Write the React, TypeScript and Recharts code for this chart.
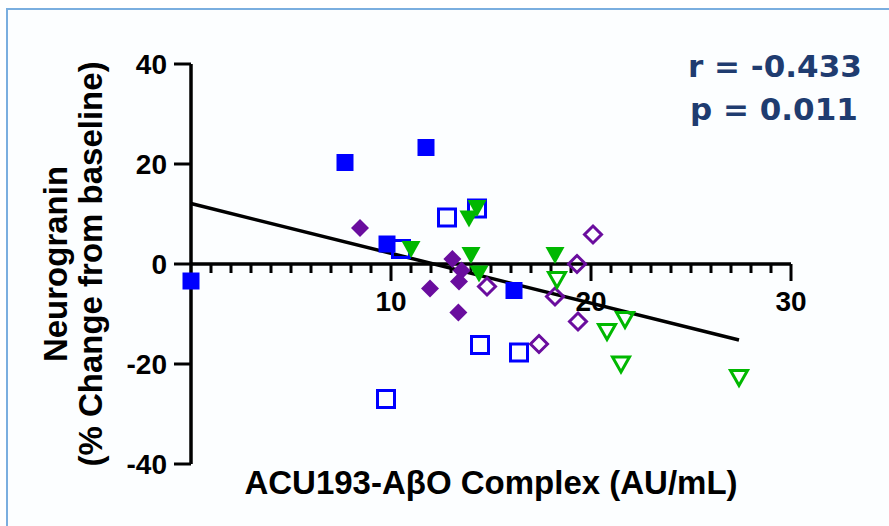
import React from 'react';
import { ScatterChart, Scatter, XAxis, YAxis, ReferenceLine } from 'recharts';

const blueFilled = [
  { x: 0, y: -3.4 }, { x: 7.7, y: 20.3 }, { x: 11.75, y: 23.3 }, { x: 9.8, y: 4.0 }, { x: 16.15, y: -5.3 },
];
const blueOpen = [
  { x: 10.5, y: 3.0 }, { x: 12.8, y: 9.3 }, { x: 14.3, y: 11.1 }, { x: 14.45, y: -16.2 }, { x: 16.4, y: -17.7 }, { x: 9.75, y: -27.0 },
];
const purpleFilled = [
  { x: 8.45, y: 7.2 }, { x: 13.07, y: 1.0 }, { x: 13.53, y: -1.3 }, { x: 13.4, y: -3.5 }, { x: 11.95, y: -4.9 }, { x: 13.37, y: -9.7 },
];
const purpleOpen = [
  { x: 14.8, y: -4.5 }, { x: 18.2, y: -6.5 }, { x: 19.3, y: 0 }, { x: 20.1, y: 5.9 }, { x: 19.35, y: -11.5 }, { x: 17.4, y: -16.0 },
];
const greenFilled = [
  { x: 11.0, y: 3.0 }, { x: 14.3, y: 11.2 }, { x: 13.9, y: 9.1 }, { x: 14.0, y: 1.8 }, { x: 14.4, y: -1.9 }, { x: 18.2, y: 1.8 },
];
const greenOpen = [
  { x: 18.3, y: -3.1 }, { x: 21.7, y: -11.1 }, { x: 20.8, y: -13.5 }, { x: 21.5, y: -20.0 }, { x: 27.4, y: -22.7 },
];
const fitStart = { x: 0, y: 12.1 };
const fitEnd = { x: 27.4, y: -15.2 };

const yTicks = [-40, -20, 0, 20, 40];
const xMajorTicks = [10, 20, 30];
const xMinorTicks = Array.from({ length: 30 }, (_, i) => i + 1).filter((v) => v % 10 !== 0);

const BLUE = '#0000ff';
const PURPLE = '#6a0d9e';
const GREEN = '#00b800';
const NAVY = '#1f3c70';
const AXIS_FONT = '"Liberation Sans", Arial, sans-serif';

const squareFilled = (p: any) => <rect x={p.cx - 8.5} y={p.cy - 8.5} width={17} height={17} fill={BLUE} />;
const squareOpen = (p: any) => (
  <rect x={p.cx - 8.5} y={p.cy - 8.5} width={17} height={17} fill="none" stroke={BLUE} strokeWidth={3} />
);
const diamondFilled = (p: any) => (
  <polygon points={`${p.cx},${p.cy - 9} ${p.cx + 9},${p.cy} ${p.cx},${p.cy + 9} ${p.cx - 9},${p.cy}`} fill={PURPLE} />
);
const diamondOpen = (p: any) => (
  <polygon
    points={`${p.cx},${p.cy - 8.5} ${p.cx + 8.5},${p.cy} ${p.cx},${p.cy + 8.5} ${p.cx - 8.5},${p.cy}`}
    fill="none" stroke={PURPLE} strokeWidth={3}
  />
);
const triFilled = (p: any) => (
  <polygon points={`${p.cx - 9.5},${p.cy - 8} ${p.cx + 9.5},${p.cy - 8} ${p.cx},${p.cy + 9}`} fill={GREEN} />
);
const triOpen = (p: any) => (
  <polygon
    points={`${p.cx - 8.5},${p.cy - 7} ${p.cx + 8.5},${p.cy - 7} ${p.cx},${p.cy + 8}`}
    fill="none" stroke={GREEN} strokeWidth={3}
  />
);

export default function App() {
  return (
    <div style={{ position: 'absolute', left: 0, top: 0, width: 889, height: 526, background: '#ffffff', overflow: 'hidden' }}>
      <div
        style={{
          position: 'absolute', left: 6, top: 8, width: 900, height: 540,
          borderLeft: '2px solid #7aaedf', borderTop: '2px solid #7aaedf', background: '#fcfeff',
        }}
      />
      <div style={{ position: 'absolute', left: 0, top: 0 }}>
        <ScatterChart width={889} height={526} margin={{ top: 64, right: 98, bottom: 62, left: 111 }}>
          <XAxis type="number" dataKey="x" domain={[0, 30]} hide />
          <YAxis
            type="number" dataKey="y" domain={[-40, 40]} ticks={yTicks} width={80}
            axisLine={{ stroke: '#000', strokeWidth: 3.5 }}
            tickLine={{ stroke: '#000', strokeWidth: 3 }}
            tickSize={17} tickMargin={7}
            tick={{ fill: '#000', fontSize: 28, fontWeight: 700, fontFamily: AXIS_FONT }}
          />
          <ReferenceLine y={0} stroke="#000" strokeWidth={3.5} />
          {xMinorTicks.map((t) => (
            <ReferenceLine key={'m' + t} segment={[{ x: t, y: 0 }, { x: t, y: -1.8 }]} stroke="#000" strokeWidth={3} />
          ))}
          {xMajorTicks.map((t) => (
            <ReferenceLine
              key={'M' + t}
              segment={[{ x: t, y: 0 }, { x: t, y: -3.4 }]}
              stroke="#000" strokeWidth={3}
              label={{ value: String(t), position: 'bottom', offset: 10, fill: '#000', fontSize: 28, fontWeight: 700, fontFamily: AXIS_FONT }}
            />
          ))}
          <Scatter data={blueFilled} shape={squareFilled} isAnimationActive={false} />
          <Scatter data={blueOpen} shape={squareOpen} isAnimationActive={false} />
          <Scatter data={purpleFilled} shape={diamondFilled} isAnimationActive={false} />
          <Scatter data={purpleOpen} shape={diamondOpen} isAnimationActive={false} />
          <Scatter data={greenFilled} shape={triFilled} isAnimationActive={false} />
          <Scatter data={greenOpen} shape={triOpen} isAnimationActive={false} />
          <ReferenceLine segment={[fitStart, fitEnd]} stroke="#000" strokeWidth={3.5} />
        </ScatterChart>
      </div>
      <svg width={889} height={526} style={{ position: 'absolute', left: 0, top: 0, pointerEvents: 'none' }}>
        <text transform="translate(67,264) rotate(-90)" textAnchor="middle" fontSize={33} fontWeight={700} fontFamily={AXIS_FONT} fill="#000">
          Neurogranin
        </text>
        <text transform="translate(102,264) rotate(-90)" textAnchor="middle" fontSize={33} fontWeight={700} fontFamily={AXIS_FONT} fill="#000">
          (% Change from baseline)
        </text>
        <text x={491} y={494} textAnchor="middle" fontSize={33} fontWeight={700} fontFamily={AXIS_FONT} fill="#000">
          ACU193-AβO Complex (AU/mL)
        </text>
        <text x={688} y={77} fontSize={31} fontWeight={700} fontFamily='"DejaVu Sans", sans-serif' fill={NAVY}>
          r = -0.433
        </text>
        <text x={690} y={120} fontSize={31} fontWeight={700} fontFamily='"DejaVu Sans", sans-serif' fill={NAVY}>
          p = 0.011
        </text>
      </svg>
    </div>
  );
}
